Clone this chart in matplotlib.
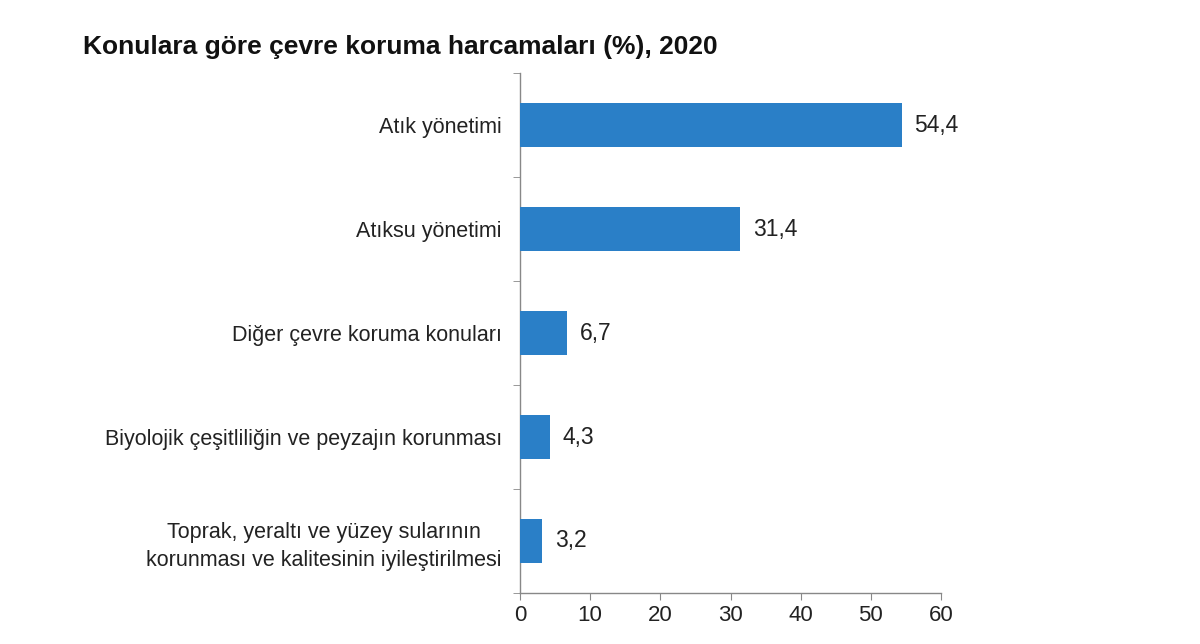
import matplotlib
matplotlib.use("Agg")
import matplotlib.pyplot as plt
from matplotlib.ticker import FixedLocator

plt.rcParams['font.family'] = ['Liberation Sans', 'DejaVu Sans']

categories = [
    "Atık yönetimi",
    "Atıksu yönetimi",
    "Diğer çevre koruma konuları",
    "Biyolojik çeşitliliğin ve peyzajın korunması",
    "Toprak, yeraltı ve yüzey sularının\nkorunması ve kalitesinin iyileştirilmesi",
]
values = [54.4, 31.4, 6.7, 4.3, 3.2]
value_labels = ["54,4", "31,4", "6,7", "4,3", "3,2"]
xticks = [0, 10, 20, 30, 40, 50, 60]
title = "Konulara göre çevre koruma harcamaları (%), 2020"

fig = plt.figure(figsize=(12, 6.44), dpi=100)
ax = fig.add_axes([0.4333, 0.0792, 0.7842 - 0.4333, 0.8866 - 0.0792])

ypos = list(range(len(categories)))
ax.barh(ypos, values, height=0.42, color="#2a7fc7", zorder=3)
ax.set_ylim(len(categories) - 0.5, -0.5)
ax.set_xlim(0, 60)

ax.set_yticks(ypos)
ax.set_yticklabels(categories, fontsize=15.5, color="#222222", linespacing=1.4,
                   multialignment='center')
ax.yaxis.set_minor_locator(FixedLocator([i - 0.5 for i in range(len(categories) + 1)]))
ax.tick_params(axis='y', which='major', length=0, pad=13)
ax.tick_params(axis='y', which='minor', length=5, color="#888888", direction='out')

ax.set_xticks(xticks)
ax.set_xticklabels([str(t) for t in xticks], fontsize=16, color="#222222")
ax.tick_params(axis='x', length=5, color="#888888", pad=4)

for s in ['top', 'right']:
    ax.spines[s].set_visible(False)
for s in ['left', 'bottom']:
    ax.spines[s].set_color("#888888")
    ax.spines[s].set_linewidth(1.0)

for y, v, lab in zip(ypos, values, value_labels):
    ax.text(v + 1.8, y, lab, va='center', ha='left', fontsize=16.5, color="#222222")

fig.text(83 / 1200, 1 - 47 / 644, title, fontsize=19, fontweight='bold',
         color="#111111", va='center', ha='left')

fig.savefig("out.png", dpi=100, facecolor="white")
